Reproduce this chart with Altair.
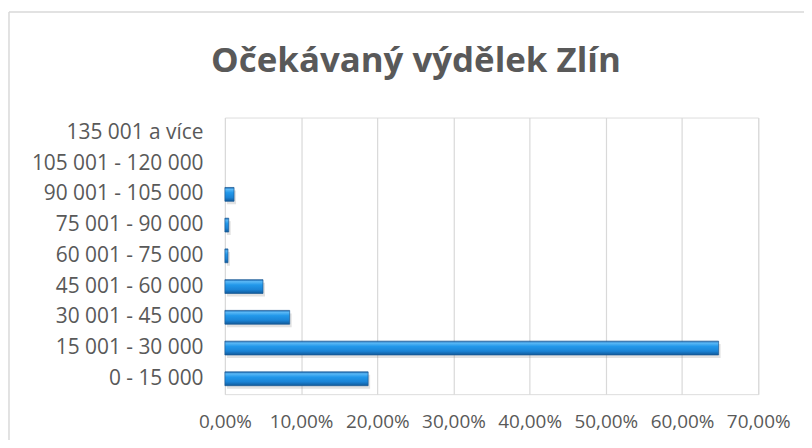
import altair as alt
import pandas as pd

categories = ["0 - 15 000", "15 001 - 30 000", "30 001 - 45 000", "45 001 - 60 000",
              "60 001 - 75 000", "75 001 - 90 000", "90 001 - 105 000",
              "105 001 - 120 000", "135 001 a více"]
values = [0.188, 0.648, 0.085, 0.050, 0.004, 0.005, 0.012, 0.0, 0.0]
x_ticks = [0, 0.1, 0.2, 0.3, 0.4, 0.5, 0.6, 0.7]

df = pd.DataFrame({"kategorie": categories, "podil": values})
top_order = list(reversed(categories))

FONT = "Open Sans"
TXT = "#595959"

grad = alt.LinearGradient(
    gradient="linear", x1=0, y1=0, x2=0, y2=1,
    stops=[
        alt.GradientStop(color="#1a68b0", offset=0),
        alt.GradientStop(color="#5ab8f6", offset=0.14),
        alt.GradientStop(color="#2298ea", offset=0.38),
        alt.GradientStop(color="#1b84d6", offset=0.72),
        alt.GradientStop(color="#115a9a", offset=1),
    ],
)

x_enc = alt.X("podil:Q",
              scale=alt.Scale(domain=[0, 0.7], nice=False),
              axis=alt.Axis(values=x_ticks, title=None, grid=True, gridColor="#d9d9d9",
                            gridWidth=1.2, domain=False, ticks=False, labelPadding=19,
                            labelOverlap=False, labelFlush=False, labelFont=FONT,
                            labelFontSize=19, labelColor=TXT,
                            labelExpr="replace(format(datum.value, '.2%'), '.', ',')"))
y_enc = alt.Y("kategorie:N", sort=top_order,
              scale=alt.Scale(paddingInner=0.55, paddingOuter=0.275),
              axis=alt.Axis(title=None, domain=False, ticks=False, labelPadding=22,
                            labelFont=FONT, labelFontSize=21, labelColor=TXT))
visible = alt.condition("datum.podil > 0", alt.value(1), alt.value(0))

shadow = alt.Chart(df).mark_bar(color="#7a7a7a", xOffset=2, yOffset=3).encode(
    x=x_enc, y=y_enc,
    opacity=alt.condition("datum.podil > 0", alt.value(0.22), alt.value(0)),
)

bars = alt.Chart(df).mark_bar(color=grad, stroke="#1a5a94", strokeWidth=0.7).encode(
    x=x_enc, y=y_enc,
    strokeOpacity=visible,
    fillOpacity=visible,
)

frame_df = pd.DataFrame({"k": [0]})
left_line = alt.Chart(frame_df).mark_rule(color="#d9d9d9", strokeWidth=1.5).encode(
    x=alt.value(-217), y=alt.value(-106), y2=alt.value(400))
top_line = alt.Chart(frame_df).mark_rule(color="#d9d9d9", strokeWidth=1.5).encode(
    x=alt.value(-217), x2=alt.value(700), y=alt.value(-106))

chart = alt.layer(left_line, top_line, shadow, bars).properties(
    width=536, height=278,
    autosize=alt.AutoSizeParams(type="none"),
    padding={"left": 218, "top": 109, "right": 46, "bottom": 45},
    title=alt.TitleParams("Očekávaný výdělek Zlín", font=FONT, fontSize=35,
                          fontWeight="bold", color=TXT, anchor="middle", dx=-76,
                          baseline="alphabetic", offset=-96),
).configure_view(stroke=None).configure(background="white")

chart.save("out.html", embed_options={"renderer": "svg", "actions": False})
